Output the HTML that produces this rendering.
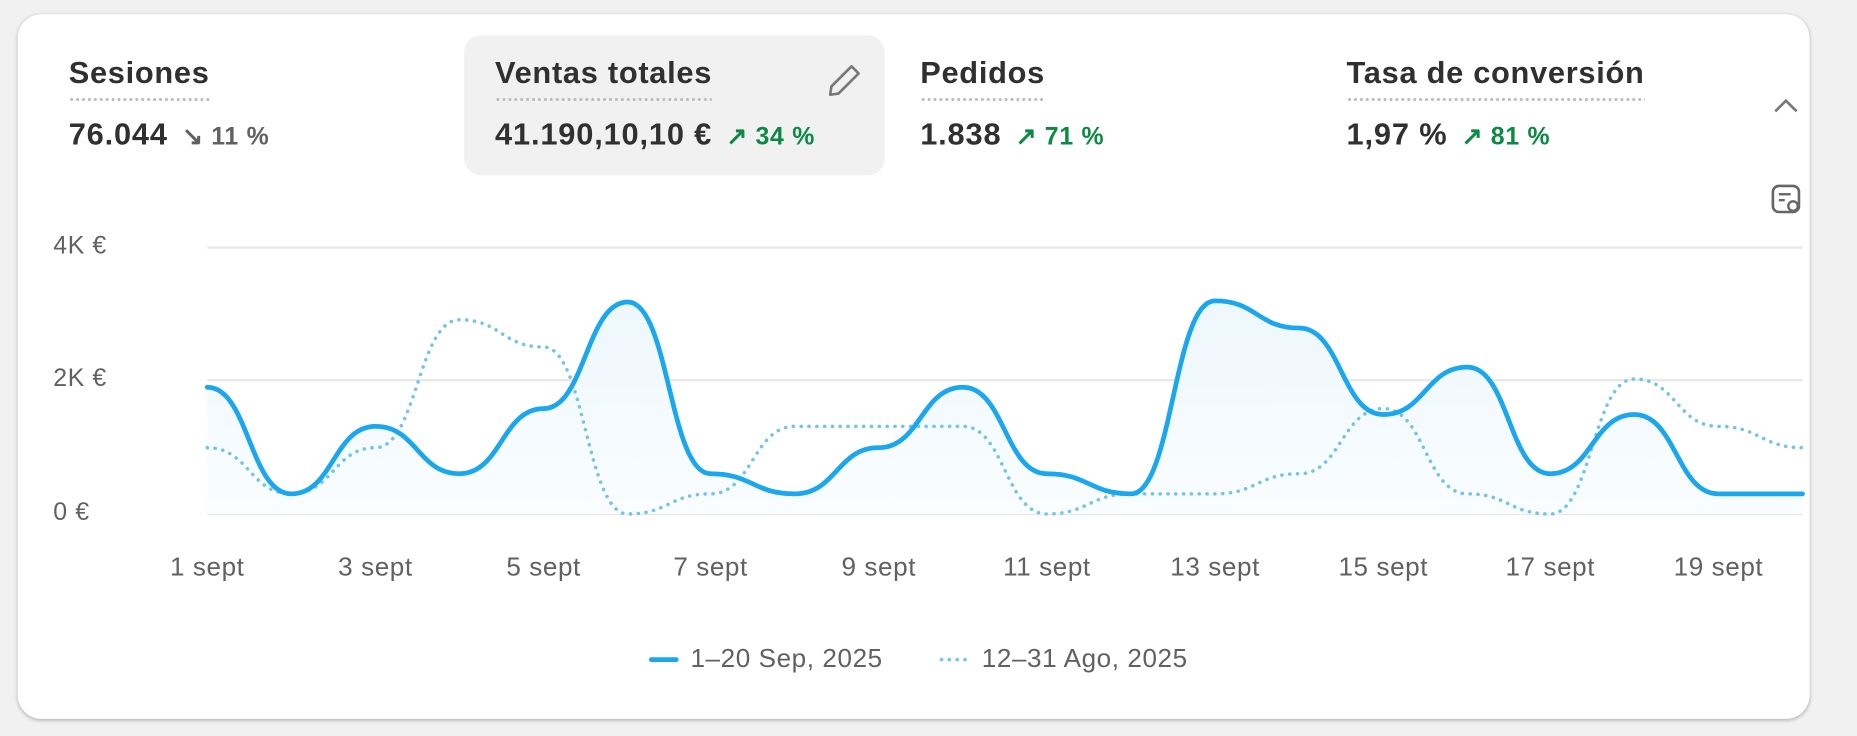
<!DOCTYPE html>
<html><head><meta charset="utf-8"><style>
html,body{margin:0;padding:0;width:1857px;height:736px;overflow:hidden;background:#f1f1f1;font-family:"Liberation Sans",sans-serif}
#w{position:absolute;left:0;top:0;width:1568px;height:621px;transform:scale(1.18431);transform-origin:0 0}
.card{position:absolute;left:15px;top:12px;width:1513px;height:595px;background:#fff;border-radius:20px;box-shadow:0 1px 3px rgba(0,0,0,.25)}
.hl{position:absolute;left:392px;top:30px;width:355px;height:118px;background:#f1f1f1;border-radius:14px}
.t{position:absolute;font-size:26px;font-weight:bold;color:#303030;top:46px;letter-spacing:0.6px;padding-bottom:9px;background-image:radial-gradient(circle,#bbb 1.2px,transparent 1.4px);background-size:5px 4px;background-repeat:repeat-x;background-position:0 100%}
.v{position:absolute;top:98px;font-size:26px;font-weight:bold;color:#303030;white-space:nowrap;letter-spacing:0.7px}
.v .g{color:#0a8a45;font-size:21px;margin-left:12px;letter-spacing:0.6px}
.v .n{color:#616161;font-size:21px;margin-left:12px;letter-spacing:0.6px}
.yl{position:absolute;left:45px;font-size:21px;color:#616161;letter-spacing:0.5px}
.xl{position:absolute;top:466px;font-size:22px;color:#616161;transform:translateX(-50%);white-space:nowrap;letter-spacing:0.5px}
.lg{position:absolute;top:543px;font-size:22px;color:#616161;letter-spacing:0.5px}
</style></head><body><div id="w">
<div class="card"></div>
<div class="hl"></div>
<div class="t" style="left:58px">Sesiones</div>
<div class="v" style="left:58px">76.044<span class="n">↘ 11 %</span></div>
<div class="t" style="left:418px">Ventas totales</div>
<div class="v" style="left:418px">41.190,10,10 €<span class="g">↗ 34 %</span></div>
<div class="t" style="left:777px">Pedidos</div>
<div class="v" style="left:777px">1.838<span class="g">↗ 71 %</span></div>
<div class="t" style="left:1137px">Tasa de conversión</div>
<div class="v" style="left:1137px">1,97 %<span class="g">↗ 81 %</span></div>
<svg style="position:absolute;left:0;top:0" width="1568" height="621">
<path d="M702 73 L719 56 L725 62 L708 79 L701 80 Z" fill="none" stroke="#777" stroke-width="2.2" stroke-linejoin="round"/>
<path d="M1499 94 L1508 85 L1517 94" fill="none" stroke="#777" stroke-width="2.2"/>
<rect x="1497" y="157" width="22" height="22" rx="5" fill="none" stroke="#666" stroke-width="2.2"/>
<line x1="1502" y1="164" x2="1512" y2="164" stroke="#666" stroke-width="2"/><line x1="1502" y1="169" x2="1507" y2="169" stroke="#666" stroke-width="2"/>
<circle cx="1514" cy="174" r="4" fill="#fff" stroke="#666" stroke-width="2"/>
<line x1="175" y1="209" x2="1522" y2="209" stroke="#e8e8e8" stroke-width="2"/>
<line x1="175" y1="321" x2="1522" y2="321" stroke="#e8e8e8" stroke-width="2"/>
<line x1="175" y1="434" x2="1522" y2="434" stroke="#e8e8e8" stroke-width="2"/>
<defs><linearGradient id="gr" x1="0" y1="0" x2="0" y2="1"><stop offset="0" stop-color="#edf7fd"/><stop offset="1" stop-color="#fafdff"/></linearGradient></defs>
<path d="M175,327 C210,327 211,417 246,417 S282,360 317,360 S353,400 388,400 S424,345 459,345 S495,255 530,255 S565,400 600,400 S636,417 671,417 S707,378 742,378 S778,327 813,327 S849,400 884,400 S920,417 955,417 S991,254 1026,254 S1062,277 1097,277 S1133,350 1168,350 S1204,310 1239,310 S1274,400 1309,400 S1345,350 1380,350 S1416,417 1451,417 S1487,417 1522,417 L1522,434 L175,434 Z" fill="url(#gr)"/>
<path d="M175,378 C210,378 211,417 246,417 S282,378 317,378 S353,270 388,270 S424,293 459,293 S495,434 530,434 S565,417 600,417 S636,360 671,360 S707,360 742,360 S778,360 813,360 S849,434 884,434 S920,417 955,417 S991,417 1026,417 S1062,400 1097,400 S1133,345 1168,345 S1204,417 1239,417 S1274,434 1309,434 S1345,320 1380,320 S1416,360 1451,360 S1487,378 1522,378" fill="none" stroke="#72c4ea" stroke-width="3" stroke-dasharray="0.1 6.5" stroke-linecap="round"/>
<path d="M175,327 C210,327 211,417 246,417 S282,360 317,360 S353,400 388,400 S424,345 459,345 S495,255 530,255 S565,400 600,400 S636,417 671,417 S707,378 742,378 S778,327 813,327 S849,400 884,400 S920,417 955,417 S991,254 1026,254 S1062,277 1097,277 S1133,350 1168,350 S1204,310 1239,310 S1274,400 1309,400 S1345,350 1380,350 S1416,417 1451,417 S1487,417 1522,417" fill="none" stroke="#1aa7ee" stroke-width="4" stroke-linecap="round"/>
<line x1="550" y1="557" x2="571" y2="557" stroke="#1aa7ee" stroke-width="4" stroke-linecap="round"/>
<line x1="795" y1="557" x2="818" y2="557" stroke="#72c4ea" stroke-width="3" stroke-dasharray="0.1 6.5" stroke-linecap="round"/>
</svg>
<div class="yl" style="top:196px">4K €</div>
<div class="yl" style="top:308px">2K €</div>
<div class="yl" style="top:421px">0 €</div>
<div class="xl" style="left:175px">1 sept</div>
<div class="xl" style="left:317px">3 sept</div>
<div class="xl" style="left:459px">5 sept</div>
<div class="xl" style="left:600px">7 sept</div>
<div class="xl" style="left:742px">9 sept</div>
<div class="xl" style="left:884px">11 sept</div>
<div class="xl" style="left:1026px">13 sept</div>
<div class="xl" style="left:1168px">15 sept</div>
<div class="xl" style="left:1309px">17 sept</div>
<div class="xl" style="left:1451px">19 sept</div>
<div class="lg" style="left:583px">1–20 Sep, 2025</div>
<div class="lg" style="left:829px">12–31 Ago, 2025</div>
</div></body></html>
